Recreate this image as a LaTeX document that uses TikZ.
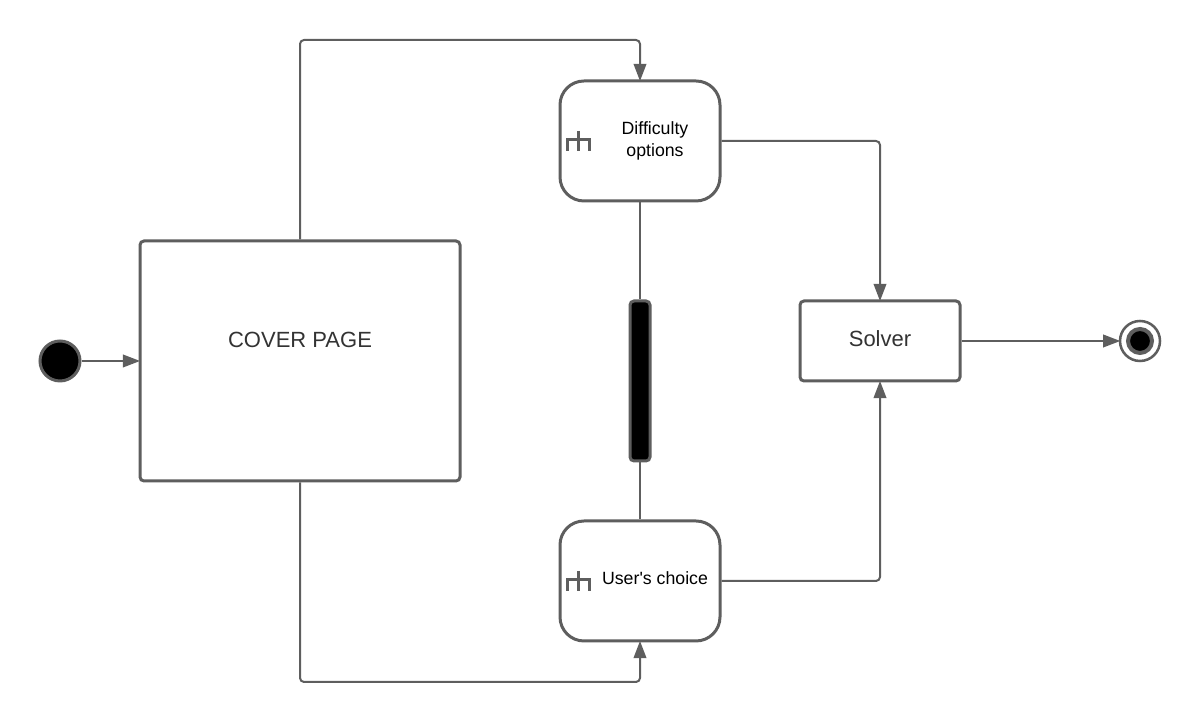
\documentclass[tikz,border=0pt]{standalone}
\usepackage{fontspec}
\setmainfont{Liberation Sans}
\usetikzlibrary{arrows.meta}
\definecolor{linegray}{HTML}{5E5E5E}
\definecolor{textgray}{HTML}{333333}
\tikzset{
    statebox/.style={rectangle, draw=linegray, line width=2.25pt, fill=white, rounded corners=3pt},
    activity/.style={statebox, minimum width=120pt, minimum height=90pt, rounded corners=18pt},
    bigtext/.style={text=textgray, font=\fontsize{16.5}{20}\selectfont},
    smalltext/.style={text=black, align=center, font=\fontsize{13.3}{16.5}\selectfont},
    flow/.style={-{Triangle[length=13pt, width=9.5pt, sharp]}, draw=linegray, line width=1.5pt, rounded corners=3pt, shorten >=-1.2pt},
    plainflow/.style={draw=linegray, line width=1.5pt},
    rake/.pic={
        \draw[draw=linegray, line width=2.25pt] (-11,-11) -- (-11,0) -- (11,0) -- (11,-11);
        \draw[draw=linegray, line width=2.25pt] (0,9) -- (0,-11);
    }
}
\begin{document}
\begin{tikzpicture}[x=0.75pt, y=0.75pt]
        \useasboundingbox (0,0) rectangle (1200,723);

        % Start and end
        \node[circle, draw=linegray, line width=2.25pt, fill=black, minimum size=30pt, inner sep=0pt] (start) at (60,362) {};
        \node[circle, draw=linegray, line width=1.9pt, fill=white, minimum size=30pt, inner sep=0pt] (finish) at (1140,382) {};
        \node[circle, draw=linegray, line width=3pt, fill=black, minimum size=18pt, inner sep=0pt] (finishdot) at (1140,382) {};

        % Main boxes
        \node[statebox, minimum width=240pt, minimum height=180pt, label={[bigtext, yshift=15.75pt]center:COVER PAGE}] (cover) at (300,362) {};
        \node[statebox, minimum width=120pt, minimum height=60pt, label={[bigtext, yshift=1.5pt]center:Solver}] (solver) at (880,382) {};

        % Activities
        \node[activity, label={[smalltext, xshift=11.25pt, yshift=0pt]center:{Difficulty\\options}}] (difficulty) at (640,582) {};
        \node[activity, label={[smalltext, xshift=11.25pt, yshift=2.25pt]center:User\textquotesingle s choice}] (choice) at (640,142) {};
        \pic at (578.5,583) {rake};
        \pic at (578.5,143) {rake};

        % Bar
        \node[rectangle, draw=linegray, line width=2.25pt, fill=black, minimum width=15pt, minimum height=120pt, rounded corners=3pt, inner sep=0pt] (bar) at (640,342) {};

        % Bends
        \coordinate (topbend) at (640,683);
        \coordinate (bottombend) at (640,41);

        % Arrows
        \draw[flow] (start) -- (cover);
        \draw[flow] (cover.north) |- (topbend) -- (difficulty.north);
        \draw[flow] (cover.south) |- (bottombend) -- (choice.south);
        \draw[flow] (difficulty.east) -| (solver.north);
        \draw[flow] (choice.east) -| (solver.south);
        \draw[flow] (solver) -- (finish);
        \draw[plainflow] (difficulty) -- (bar);
        \draw[plainflow] (bar) -- (choice);
    \end{tikzpicture}
\end{document}
